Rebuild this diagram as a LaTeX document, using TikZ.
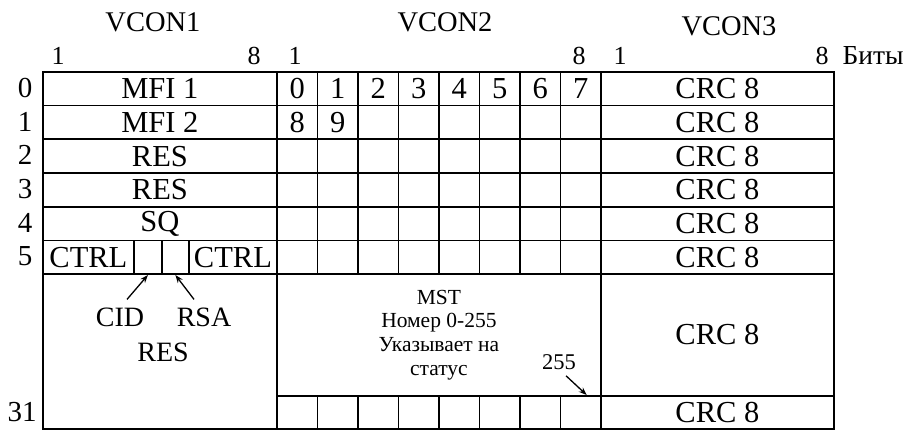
\documentclass[tikz,border=0pt]{standalone}
\usepackage{fontspec}
\setmainfont{Liberation Serif}
\usetikzlibrary{positioning,arrows.meta}

\begin{document}
\begin{tikzpicture}[
  x=1pt, y=-1pt,
  font=\fontsize{30.5}{35}\selectfont,
  every node/.style={align=center},
  cell/.style={rectangle, draw=black, line width=1.8pt, inner sep=0pt, anchor=north west, minimum height=33.7pt},
  wide/.style={cell, minimum width=234pt},
  bitcell/.style={cell, minimum width=40.5pt},
  crc/.style={cell, minimum width=233pt},
  head/.style={inner sep=0pt, font=\fontsize{28.5}{32}\selectfont},
  bitno/.style={inner sep=0pt, font=\fontsize{26}{30}\selectfont},
  rowno/.style={inner sep=0pt, font=\fontsize{29}{33}\selectfont},
  note/.style={inner sep=0pt, font=\fontsize{28}{32}\selectfont},
  pointer/.style={-{Stealth[length=8pt,width=6pt]}, line width=1.3pt}
]
  \useasboundingbox (0,0) rectangle (909,430);

  % headers
  \node[head] (vcon1) at (153,22) {VCON1};
  \node[head] (vcon2) at (445,22) {VCON2};
  \node[head] (vcon3) at (729,26.5) {VCON3};
  \node[bitno] (b1-first) at (58,56) {1};
  \node[bitno] (b1-last) at (254,56) {8};
  \node[bitno] (b2-first) at (295,56) {1};
  \node[bitno] (b2-last) at (579,56) {8};
  \node[bitno] (b3-first) at (620,56) {1};
  \node[bitno] (b3-last) at (822,56) {8};
  \node[bitno, font=\fontsize{27.5}{31}\selectfont] (bits) at (873,55) {Биты};

  % row numbers
  \foreach \r in {0,...,5}
    \node[rowno] (row-\r) at (25,87.9+\r*33.7) {\r};
  \node[rowno] (row-31) at (22,412) {31};

  % VCON1
  \foreach \r/\t in {0/MFI 1, 1/MFI 2, 2/RES, 3/RES, 4/SQ}
    \node[wide] (vcon1-\r) at (42,71+\r*33.7) {\t};
  \node[cell, minimum width=91pt] (ctrl-l) at (42,239.5) {CTRL};
  \node[cell, minimum width=28pt] (cid-cell) at (133,239.5) {};
  \node[cell, minimum width=27pt] (rsa-cell) at (161,239.5) {};
  \node[cell, minimum width=88pt] (ctrl-r) at (188,239.5) {CTRL};
  \node[cell, minimum width=234pt, minimum height=154.8pt] (vcon1-res) at (42,273.2) {};
  \node[note] (cid) at (120,317) {CID};
  \node[note] (rsa) at (204,317) {RSA};
  \node[note] (res) at (163,352) {RES};
  \draw[pointer] ([xshift=7pt,yshift=8pt]cid.north) -- (cid-cell.south);
  \draw[pointer] ([xshift=-10pt,yshift=8pt]rsa.north) -- (rsa-cell.south);

  % VCON2
  \foreach \r in {0,...,5}
    \foreach \c in {0,...,7} {
      \pgfmathtruncatemacro\n{\r*8+\c}
      \node[bitcell] (bit-\r-\c) at (276+\c*40.5,71+\r*33.7) {\ifnum\n<10 \n\fi};
    }
  \node[cell, minimum width=324pt, minimum height=121.8pt, font=\fontsize{21.5}{23.7}\selectfont] (mst) at (276,273.2)
    {MST\\Номер 0-255\\Указывает на\\статус};
  \foreach \c in {0,...,7}
    \node[bitcell, minimum height=33pt] (bit-31-\c) at (276+\c*40.5,395) {};
  \node[inner sep=0pt, font=\fontsize{22.5}{26}\selectfont] (last) at (559,362) {255};
  \draw[pointer] ([xshift=7pt,yshift=-6pt]last.south) -- ([xshift=6pt]bit-31-7.north);

  % VCON3
  \foreach \r in {0,...,5}
    \node[crc] (crc-\r) at (600,71+\r*33.7) {CRC 8};
  \node[crc, minimum height=121.8pt] (crc-mid) at (600,273.2) {CRC 8};
  \node[crc, minimum height=33pt] (crc-31) at (600,395) {CRC 8};
\end{tikzpicture}
\end{document}
